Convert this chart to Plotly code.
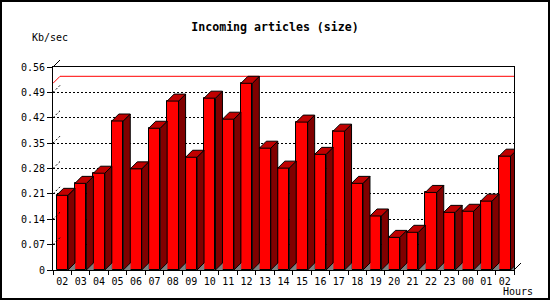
import plotly.graph_objects as go

# ---------------- data ----------------
hours = ["02", "03", "04", "05", "06", "07", "08", "09", "10", "11", "12", "13",
         "14", "15", "16", "17", "18", "19", "20", "21", "22", "23", "00", "01", "02"]
kb_per_sec = [0.206, 0.239, 0.267, 0.411, 0.279, 0.391, 0.466, 0.311, 0.474,
              0.416, 0.515, 0.336, 0.281, 0.408, 0.319, 0.383, 0.239, 0.149,
              0.090, 0.104, 0.214, 0.159, 0.162, 0.190, 0.314]
y_tick_values = [0, 0.07, 0.14, 0.21, 0.28, 0.35, 0.42, 0.49, 0.56]
y_tick_labels = ["0", "0.07", "0.14", "0.21", "0.28", "0.35", "0.42", "0.49", "0.56"]
title_text = "Incoming articles (size)"
y_title = "Kb/sec"
x_title = "Hours"

# ---------------- geometry / style ----------------
W, H = 550, 300
ML, MR, MT, MB = 53, 29, 60, 30
DEPTH = 7                       # pixel depth of the 3-D effect
PW, PH = W - ML - MR, H - MT - MB
FW, FH = PW - DEPTH, PH - DEPTH  # front plane size in px
N = len(hours)
YMAX = y_tick_values[-1]
XR = [-0.5, N - 0.5]
dx = DEPTH / (FW / N)            # depth in category units
dy = DEPTH / (FH / YMAX)         # depth in value units
BW = 0.62                        # bar width (category units)

FRONT = "#ff0000"
SIDE = "#800000"
TOP = "#c00000"
FLOOR = "#808080"
FONT = "DejaVu Sans Mono"

xs = list(range(N))

fig = go.Figure()

# front faces
fig.add_trace(go.Bar(x=xs, y=kb_per_sec, width=BW, marker=dict(color=FRONT, line=dict(color="black", width=1)),
                     hoverinfo="skip", xaxis="x", yaxis="y"))

# red maximum line on the back plane (drawn before bars' 3-D faces)
vmax = max(kb_per_sec)
fig.add_trace(go.Scatter(x=[XR[0], XR[0] + dx, XR[1] + dx], y=[vmax, vmax + dy, vmax + dy],
                         mode="lines", line=dict(color="red", width=1), cliponaxis=False,
                         hoverinfo="skip", xaxis="x", yaxis="y"))

# diagonal grid connectors on the left wall
gx, gy = [], []
for v in y_tick_values[1:-1]:
    gx += [XR[0], XR[0] + dx, None]
    gy += [v, v + dy, None]
fig.add_trace(go.Scatter(x=gx, y=gy, mode="lines", line=dict(color="black", width=1, dash="2px,2px"),
                         cliponaxis=False, hoverinfo="skip", xaxis="x", yaxis="y"))

# floor shadow triangles, side faces, top faces
fx, fy, sx, sy, tx, ty = [], [], [], [], [], []
for i, v in zip(xs, kb_per_sec):
    l, r = i - BW / 2, i + BW / 2
    fx += [r, r + dx, r + dx, r, None]
    fy += [0, 0, dy, 0, None]
    sx += [r, r + dx, r + dx, r, r, None]
    sy += [0, dy, v + dy, v, 0, None]
    tx += [l, l + dx, r + dx, r, l, None]
    ty += [v, v + dy, v + dy, v, v, None]
fig.add_trace(go.Scatter(x=fx, y=fy, mode="lines", fill="toself", fillcolor=FLOOR,
                         line=dict(color=FLOOR, width=0.5), cliponaxis=False, hoverinfo="skip"))
fig.add_trace(go.Scatter(x=sx, y=sy, mode="lines", fill="toself", fillcolor=SIDE,
                         line=dict(color="black", width=1), cliponaxis=False, hoverinfo="skip"))
fig.add_trace(go.Scatter(x=tx, y=ty, mode="lines", fill="toself", fillcolor=TOP,
                         line=dict(color="black", width=1), cliponaxis=False, hoverinfo="skip"))

# dummy trace so the back-plane axes exist
fig.add_trace(go.Scatter(x=[None], y=[None], xaxis="x2", yaxis="y2", hoverinfo="skip", showlegend=False))


def px_x(p):
    return (p - ML) / PW


def px_y(p):
    return (H - MB - p) / PH


shapes = [
    # top-left and bottom-right depth diagonals
    dict(type="line", xref="paper", yref="paper", x0=0, y0=FH / PH, x1=DEPTH / PW, y1=1,
         line=dict(color="black", width=1)),
    dict(type="line", xref="paper", yref="paper", x0=FW / PW, y0=0, x1=1, y1=DEPTH / PH,
         line=dict(color="black", width=1)),
    # outer border
    dict(type="rect", xref="paper", yref="paper", x0=px_x(1), x1=px_x(W - 1), y0=px_y(H - 1), y1=px_y(1),
         line=dict(color="black", width=2), layer="above"),
]

annotations = [
    dict(text=y_title, xref="paper", yref="paper", x=px_x(30), y=px_y(38), xanchor="left", yanchor="middle",
         showarrow=False, font=dict(family=FONT, size=10, color="black")),
    dict(text=x_title, xref="paper", yref="paper", x=px_x(535), y=px_y(291), xanchor="right", yanchor="middle",
         showarrow=False, font=dict(family=FONT, size=10, color="black")),
]

fig.update_layout(
    width=W, height=H, margin=dict(l=ML, r=MR, t=MT, b=MB, pad=0),
    paper_bgcolor="white", plot_bgcolor="rgba(0,0,0,0)",
    showlegend=False, bargap=0,
    title=dict(text="<b>" + title_text + "</b>", x=0.5, xref="container", xanchor="center",
               y=1 - 27 / H, yref="container", yanchor="middle",
               font=dict(family=FONT, size=11.6, color="black")),
    xaxis=dict(domain=[0, FW / PW], range=XR, tickvals=xs, ticktext=hours, ticks="",
               showgrid=False, zeroline=False, showline=True, linecolor="black", linewidth=1,
               tickfont=dict(family=FONT, size=10, color="black"), ticklabelstandoff=2,
               minor=dict(tickvals=[i - 0.5 for i in range(N + 1)], ticks="outside", ticklen=4,
                          tickcolor="black", tickwidth=1, showgrid=False),
               fixedrange=True),
    yaxis=dict(domain=[0, FH / PH], range=[0, YMAX], tickvals=y_tick_values, ticktext=y_tick_labels,
               ticks="outside", ticklen=5, tickcolor="black", showgrid=False, zeroline=False,
               showline=True, linecolor="black", linewidth=1,
               tickfont=dict(family=FONT, size=10, color="black"), fixedrange=True),
    xaxis2=dict(domain=[DEPTH / PW, 1], range=XR, anchor="y2", overlaying="x", showticklabels=False,
                ticks="", showgrid=False, zeroline=False, showline=True, mirror=True,
                linecolor="black", linewidth=1, layer="below traces", fixedrange=True),
    yaxis2=dict(domain=[DEPTH / PH, 1], range=[0, YMAX], anchor="x2", overlaying="y",
                tickvals=y_tick_values[1:-1], showticklabels=False, ticks="", showgrid=True,
                gridcolor="black", gridwidth=1, griddash="2px,2px", zeroline=False, showline=True,
                mirror=True, linecolor="black", linewidth=1, layer="below traces", fixedrange=True),
    shapes=shapes, annotations=annotations,
)

fig.write_html("out.html", config={"displayModeBar": False})
